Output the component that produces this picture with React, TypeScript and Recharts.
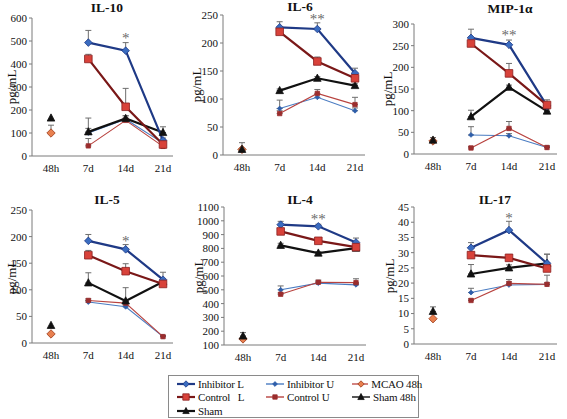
import React from "react";
import { LineChart, Line, XAxis, YAxis, ErrorBar, ReferenceDot } from "recharts";

const times = ["48h", "7d", "14d", "21d"];
const seriesNames = ["Inhibitor L", "Inhibitor U", "MCAO 48h", "Control   L", "Control U", "Sham 48h", "Sham"];

// rows: Inhibitor L, Inhibitor U, MCAO 48h, Control L, Control U, Sham 48h, Sham
// columns: 48h, 7d, 14d, 21d
const il10Values = [
  [null, 493, 458, 68],
  [null, 100, 160, 56],
  [100, null, null, null],
  [null, 422, 214, 50],
  [null, 44, 155, 42],
  [165, null, null, null],
  [null, 105, 163, 102],
];
const il10Errors = [
  [null, 53, 35, 10],
  [null, 20, 15, 10],
  [34, null, null, null],
  [null, 20, 80, 10],
  [null, 32, 10, 10],
  [null, null, null, null],
  [null, 60, 12, 25],
];
const il10Ticks = [0, 100, 200, 300, 400, 500, 600];

const il6Values = [
  [null, 228, 225, 146],
  [null, 83, 103, 79],
  [10, null, null, null],
  [null, 220, 167, 137],
  [null, 74, 110, 90],
  [10, null, null, null],
  [null, 115, 137, 124],
];
const il6Errors = [
  [null, 10, 11, 9],
  [null, 15, 5, 5],
  [12, null, null, null],
  [null, 5, 8, 6],
  [null, 5, 7, 13],
  [null, null, null, null],
  [null, 3, 3, 3],
];
const il6Ticks = [0, 50, 100, 150, 200, 250];

const mipValues = [
  [null, 268, 252, 111],
  [null, 44, 42, 15],
  [30, null, null, null],
  [null, 255, 186, 113],
  [null, 14, 59, 15],
  [32, null, null, null],
  [null, 86, 154, 99],
];
const mipErrors = [
  [null, 20, 11, 8],
  [null, 19, 5, 3],
  [8, null, null, null],
  [null, 5, 23, 12],
  [null, 3, 16, 3],
  [null, null, null, null],
  [null, 15, 5, 5],
];
const mipTicks = [0, 50, 100, 150, 200, 250, 300];

const il5Values = [
  [null, 192, 176, 119],
  [null, 77, 68, 12],
  [17, null, null, null],
  [null, 165, 135, 111],
  [null, 80, 75, 12],
  [33, null, null, null],
  [null, 113, 79, 115],
];
const il5Errors = [
  [null, 12, 9, 14],
  [null, 3, 3, 2],
  [null, null, null, null],
  [null, 9, 14, 5],
  [null, 3, 3, 2],
  [null, null, null, null],
  [null, 19, 25, 5],
];
const il5Ticks = [0, 50, 100, 150, 200, 250];

const il4Values = [
  [null, 972, 960, 843],
  [null, 500, 548, 536],
  [144, null, null, null],
  [null, 923, 855, 809],
  [null, 468, 555, 552],
  [165, null, null, null],
  [null, 822, 766, 802],
];
const il4Errors = [
  [null, 24, 15, 32],
  [null, 28, 10, 10],
  [null, null, null, null],
  [null, 20, 15, 15],
  [null, 10, 15, 28],
  [25, null, null, null],
  [null, 15, 10, 10],
];
const il4Ticks = [100, 200, 300, 400, 500, 600, 700, 800, 900, 1000, 1100];

const il17Values = [
  [null, 31.6, 37.4, 26.5],
  [null, 16.9, 19.4, 19.6],
  [8.3, null, null, null],
  [null, 29.2, 28.3, 24.8],
  [null, 14.3, 19.9, 19.6],
  [10.7, null, null, null],
  [null, 23, 25, 26.5],
];
const il17Errors = [
  [null, 1.7, 2.9, 3],
  [null, 1.4, 1, 0.5],
  [null, null, null, null],
  [null, 1, 1, 1],
  [null, 0.5, 1.3, 3],
  [1.5, null, null, null],
  [null, 3.1, 1, 3],
];
const il17Ticks = [0, 5, 10, 15, 20, 25, 30, 35, 40, 45];

const FONT = "Liberation Serif, Times New Roman, serif";
const Y_W = 40;
const TOP_PAD = 10;
const X_H = 20;

type Shape = "diamond" | "square" | "triangle";
const seriesStyles: { stroke: string; width: number; shape: Shape; size: number; fill: string; edge: string }[] = [
  { stroke: "#1f3a86", width: 2.2, shape: "diamond", size: 3.8, fill: "#3a6cc0", edge: "#1f3a86" },
  { stroke: "#4a7cc2", width: 1.1, shape: "diamond", size: 2.4, fill: "#2e5eaa", edge: "#2e5eaa" },
  { stroke: "#c0504d", width: 1.1, shape: "diamond", size: 4.2, fill: "#e8804f", edge: "#9a3a1a" },
  { stroke: "#7a1818", width: 2.2, shape: "square", size: 3.8, fill: "#d8423a", edge: "#8a2020" },
  { stroke: "#b8433f", width: 1.1, shape: "square", size: 2.2, fill: "#9b2d2d", edge: "#9b2d2d" },
  { stroke: "#111111", width: 1.1, shape: "triangle", size: 3.8, fill: "#111111", edge: "#111111" },
  { stroke: "#111111", width: 2.2, shape: "triangle", size: 3.8, fill: "#111111", edge: "#111111" },
];
const drawOrder = [1, 4, 2, 5, 6, 0, 3];

function markerPath(shape: Shape, cx: number, cy: number, r: number) {
  if (shape === "diamond") return `M${cx},${cy - r}L${cx + r},${cy}L${cx},${cy + r}L${cx - r},${cy}Z`;
  if (shape === "square") return `M${cx - r},${cy - r}H${cx + r}V${cy + r}H${cx - r}Z`;
  return `M${cx},${cy - r * 1.1}L${cx + r},${cy + r * 0.8}L${cx - r},${cy + r * 0.8}Z`;
}

function dotFor(s: number) {
  const st = seriesStyles[s];
  return (p: any) => {
    if (p.cx == null || p.cy == null || p.value == null) return <g key={`d${s}-${p.index}`} />;
    return (
      <path
        key={`d${s}-${p.index}`}
        d={markerPath(st.shape, p.cx, p.cy, st.size)}
        fill={st.fill}
        stroke={st.edge}
        strokeWidth={0.8}
      />
    );
  };
}

type PanelCfg = {
  title: string;
  values: (number | null)[][];
  errors: (number | null)[][];
  ticks: number[];
  star: string;
  starY: number;
  axisX: number;
  top: number;
  bottom: number;
  right: number;
  titleX: number;
  titleY: number;
  labelX: number;
};

const panels: PanelCfg[] = [
  { title: "IL-10", values: il10Values, errors: il10Errors, ticks: il10Ticks, star: "*", starY: 515, axisX: 32, top: 18, bottom: 156, right: 173, titleX: 107, titleY: 8, labelX: 12 },
  { title: "IL-6", values: il6Values, errors: il6Errors, ticks: il6Ticks, star: "**", starY: 244, axisX: 223, top: 15, bottom: 155, right: 365, titleX: 300, titleY: 7, labelX: 197 },
  { title: "MIP-1α", values: mipValues, errors: mipErrors, ticks: mipTicks, star: "**", starY: 275, axisX: 414, top: 24, bottom: 154, right: 557, titleX: 510, titleY: 9, labelX: 388 },
  { title: "IL-5", values: il5Values, errors: il5Errors, ticks: il5Ticks, star: "*", starY: 193, axisX: 32, top: 210, bottom: 343, right: 173, titleX: 107, titleY: 200, labelX: 12 },
  { title: "IL-4", values: il4Values, errors: il4Errors, ticks: il4Ticks, star: "**", starY: 1015, axisX: 224, top: 207, bottom: 345, right: 366, titleX: 300, titleY: 200, labelX: 199 },
  { title: "IL-17", values: il17Values, errors: il17Errors, ticks: il17Ticks, star: "*", starY: 41.5, axisX: 414, top: 207, bottom: 344, right: 557, titleX: 495, titleY: 200, labelX: 390 },
];

function Panel({ p }: { p: PanelCfg }) {
  const data = times.map((t, i) => {
    const row: Record<string, unknown> = { time: t };
    p.values.forEach((vals, s) => {
      row[`s${s}`] = vals[i];
      const e = p.errors[s][i];
      row[`e${s}`] = e == null || vals[i] == null ? null : [0, e];
    });
    return row;
  });
  const plotW = p.right - p.axisX;
  const plotH = p.bottom - p.top;
  const lo = p.ticks[0];
  const hi = p.ticks[p.ticks.length - 1];
  const tickStyle = { fontSize: 11, fill: "#111", fontFamily: FONT, style: { fontFamily: FONT } };
  return (
    <>
      <div style={{ position: "absolute", left: p.axisX - Y_W, top: p.top - TOP_PAD }}>
        <LineChart
          width={Y_W + plotW + 4}
          height={TOP_PAD + plotH + X_H + 2}
          data={data}
          margin={{ top: TOP_PAD, right: 4, bottom: 2, left: 0 }}
          style={{ fontFamily: FONT }}
        >
          <XAxis
            dataKey="time"
            type="category"
            height={X_H}
            padding={{ left: 19, right: 10 }}
            tickLine={false}
            axisLine={{ stroke: "#7a7a7a" }}
            tick={tickStyle}
            interval={0}
          />
          <YAxis
            width={Y_W}
            domain={[lo, hi]}
            ticks={p.ticks}
            interval={0}
            tickSize={3}
            axisLine={{ stroke: "#7a7a7a" }}
            tickLine={{ stroke: "#7a7a7a" }}
            tick={tickStyle}
            allowDataOverflow
          />
          {drawOrder.map((s) => {
            const st = seriesStyles[s];
            return (
              <Line
                key={s}
                dataKey={`s${s}`}
                name={seriesNames[s]}
                stroke={st.stroke}
                strokeWidth={st.width}
                dot={dotFor(s)}
                activeDot={false}
                isAnimationActive={false}
              >
                <ErrorBar dataKey={`e${s}`} direction="y" width={3} stroke="#6e6e6e" strokeWidth={1} />
              </Line>
            );
          })}
          <ReferenceDot
            x="14d"
            y={p.starY}
            r={0}
            fill="none"
            stroke="none"
            label={{ value: p.star, position: "center", fill: "#6a6a6a", fontSize: 15, fontFamily: FONT }}
          />
        </LineChart>
      </div>
      <div
        style={{
          position: "absolute",
          left: p.titleX - 40,
          top: p.titleY - 7,
          width: 80,
          textAlign: "center",
          fontFamily: FONT,
          fontWeight: "bold",
          fontSize: 13.5,
          lineHeight: "14px",
          color: "#111",
        }}
      >
        {p.title}
      </div>
      <div
        style={{
          position: "absolute",
          left: p.labelX - 30,
          top: (p.top + p.bottom) / 2 - 8,
          width: 60,
          height: 16,
          lineHeight: "16px",
          textAlign: "center",
          fontFamily: FONT,
          fontSize: 13,
          color: "#111",
          transform: "rotate(-90deg)",
        }}
      >
        pg/mL
      </div>
    </>
  );
}

function LegendItem({ s }: { s: number }) {
  const st = seriesStyles[s];
  return (
    <div style={{ display: "flex", alignItems: "center", height: 13.5 }}>
      <svg width={18} height={10} style={{ marginRight: 3 }}>
        <line x1={0} y1={5} x2={18} y2={5} stroke={st.stroke} strokeWidth={Math.max(1.4, st.width)} />
        <path d={markerPath(st.shape, 9, 5, Math.min(st.size, 3.2))} fill={st.fill} stroke={st.edge} strokeWidth={0.8} />
      </svg>
      <span style={{ whiteSpace: "pre" }}>{seriesNames[s]}</span>
    </div>
  );
}

export default function App() {
  return (
    <div
      style={{
        position: "absolute",
        left: 0,
        top: 0,
        width: 567,
        height: 419,
        background: "#fff",
        overflow: "hidden",
        fontFamily: FONT,
      }}
    >
      {panels.map((p) => (
        <Panel key={p.title} p={p} />
      ))}
      <div
        style={{
          position: "absolute",
          left: 168,
          top: 375,
          width: 251,
          height: 43,
          border: "1px solid #8a8a8a",
          boxSizing: "border-box",
          padding: "1px 0 0 8px",
          display: "grid",
          gridTemplateColumns: "89px 86px 70px",
          fontFamily: FONT,
          fontSize: 11,
          letterSpacing: -0.2,
          color: "#111",
        }}
      >
        {seriesNames.map((_, s) => (
          <LegendItem key={s} s={s} />
        ))}
      </div>
    </div>
  );
}
